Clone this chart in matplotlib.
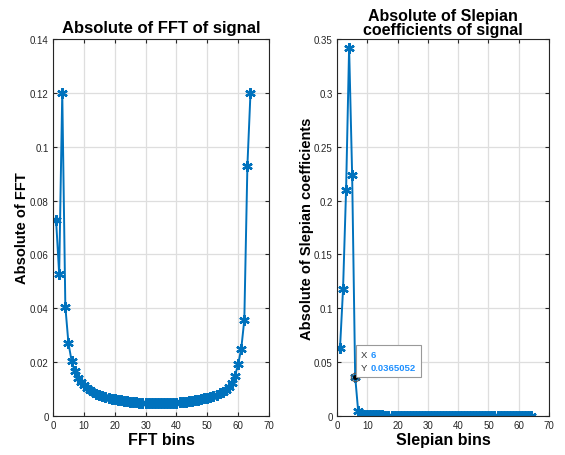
import matplotlib
matplotlib.use("Agg")
import matplotlib.pyplot as plt
from matplotlib.offsetbox import TextArea, HPacker, VPacker, AnnotationBbox

plt.rcParams['font.family'] = ['Liberation Sans', 'DejaVu Sans']

# |FFT| per bin (bins 1..64)
fft_bins = list(range(1, 65))
fft_abs = [0.0727, 0.0527, 0.1200, 0.0406, 0.0271, 0.0206, 0.0167, 0.0142,
           0.0126, 0.0114, 0.0104, 0.0096, 0.0089, 0.0083, 0.0078, 0.0074,
           0.0070, 0.0067, 0.0064, 0.0062, 0.0060, 0.0058, 0.0056, 0.0055,
           0.0053, 0.0052, 0.0051, 0.0050, 0.0050, 0.0049, 0.0049, 0.0048,
           0.0048, 0.0048, 0.0048, 0.0048, 0.0049, 0.0049, 0.0050, 0.0050,
           0.0051, 0.0052, 0.0053, 0.0055, 0.0056, 0.0058, 0.0060, 0.0062,
           0.0065, 0.0068, 0.0071, 0.0075, 0.0079, 0.0084, 0.0090, 0.0098,
           0.0108, 0.0122, 0.0150, 0.0193, 0.0249, 0.0357, 0.0930, 0.1200]

# |Slepian coefficients| (bins 1..64)
slep_bins = list(range(1, 65))
slep_abs = [0.0634, 0.1180, 0.2100, 0.3420, 0.2240, 0.0365052, 0.0042, 0.0012,
            0.0009, 0.0007, 0.0006, 0.0006, 0.0005, 0.0005, 0.0005, 0.0004,
            0.0004, 0.0004, 0.0004, 0.0004, 0.0003, 0.0003, 0.0003, 0.0003,
            0.0003, 0.0003, 0.0003, 0.0003, 0.0003, 0.0003, 0.0003, 0.0003,
            0.0003, 0.0003, 0.0003, 0.0003, 0.0003, 0.0003, 0.0003, 0.0003,
            0.0003, 0.0003, 0.0003, 0.0003, 0.0003, 0.0003, 0.0003, 0.0003,
            0.0003, 0.0003, 0.0003, 0.0003, 0.0003, 0.0003, 0.0003, 0.0003,
            0.0003, 0.0003, 0.0003, 0.0003, 0.0003, 0.0003, 0.0003, 0.0003]

tip_index = 5  # datatip on bin 6

blue = '#0072BD'
asterisk = (6, 2, 0)

fig = plt.figure(figsize=(5.65, 4.56), dpi=100)
ax1 = fig.add_axes([53/565, 39/456, 216/565, 377/456])
ax2 = fig.add_axes([337/565, 39/456, 212/565, 377/456])


def style(ax, ymax, ystep):
    ax.set_xlim(0, 70)
    ax.set_ylim(0, ymax)
    ax.set_xticks(range(0, 71, 10))
    n = int(round(ymax / ystep))
    ax.set_yticks([round(i * ystep, 3) for i in range(n + 1)])
    ax.grid(True, color='#dedede', linewidth=0.9)
    ax.set_axisbelow(True)
    ax.tick_params(direction='in', length=3, width=0.8, labelsize=7,
                   colors='#262626', top=True, right=True, pad=3)
    for s in ax.spines.values():
        s.set_color('#262626')
        s.set_linewidth(0.8)


ax1.plot(fft_bins, fft_abs, color=blue, lw=1.4, marker=asterisk, ms=7.5, mew=1.7)
style(ax1, 0.14, 0.02)
ax1.set_yticklabels(['0', '0.02', '0.04', '0.06', '0.08', '0.1', '0.12', '0.14'])
ax1.set_title('Absolute of FFT of signal', fontsize=12, fontweight='bold', pad=5)
ax1.set_xlabel('FFT bins', fontsize=11.5, fontweight='bold', labelpad=1)
ax1.set_ylabel('Absolute of FFT', fontsize=10.5, fontweight='bold', labelpad=1)

ax2.plot(slep_bins, slep_abs, color=blue, lw=1.4, marker=asterisk, ms=7.5, mew=1.7)
style(ax2, 0.35, 0.05)
ax2.set_yticklabels(['0', '0.05', '0.1', '0.15', '0.2', '0.25', '0.3', '0.35'])
ax2.set_title('Absolute of Slepian\ncoefficients of signal', fontsize=11.5,
              fontweight='bold', pad=3.5, linespacing=0.95)
ax2.set_xlabel('Slepian bins', fontsize=11.5, fontweight='bold', labelpad=1)
ax2.set_ylabel('Absolute of Slepian coefficients', fontsize=10.5,
               fontweight='bold', labelpad=0)

# datatip
tx, ty = slep_bins[tip_index], slep_abs[tip_index]
ax2.plot(tx, ty, 'o', mfc='none', mec='#555555', ms=6, mew=0.8, ls='none', zorder=5)
ax2.plot(tx, ty, 'o', color='black', ms=2.5, zorder=6)
lab = dict(fontsize=6.8, color='#333333')
val = dict(fontsize=6.8, color='#1E90FF', fontweight='bold')
row1 = HPacker(children=[TextArea('X', textprops=lab),
                         TextArea(str(tx), textprops=val)], pad=0, sep=2.5)
row2 = HPacker(children=[TextArea('Y', textprops=lab),
                         TextArea(f'{ty:.7f}', textprops=val)], pad=0, sep=2.5)
box = VPacker(children=[row1, row2], pad=0, sep=2.5, align='left')
ab = AnnotationBbox(box, (tx, ty), xybox=(4, 3.5), boxcoords='offset points',
                    box_alignment=(0, 0), pad=0.35, zorder=7,
                    bboxprops=dict(edgecolor='#999999', facecolor='white', lw=0.8))
ax2.add_artist(ab)

fig.savefig('out.png', dpi=100)
